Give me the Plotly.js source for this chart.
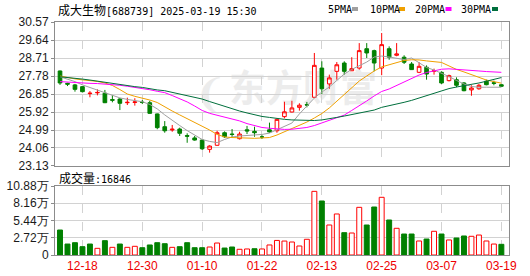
<!DOCTYPE html>
<html><head><meta charset="utf-8">
<script src="https://cdn.plot.ly/plotly-3.0.1.min.js"></script>
<style>body{margin:0;background:#fff}#chart{width:530px;height:276px}</style>
</head><body><div id="chart"></div>
<script>
const dates = ['12-13','12-16','12-17','12-18','12-19','12-20','12-23','12-24','12-25','12-26','12-27','12-30','12-31','01-02','01-03','01-06','01-07','01-08','01-09','01-10','01-13','01-14','01-15','01-16','01-17','01-20','01-21','01-22','01-23','01-24','01-27','02-07','02-10','02-11','02-12','02-13','02-14','02-17','02-18','02-19','02-20','02-21','02-24','02-25','02-26','02-27','02-28','03-03','03-04','03-05','03-06','03-07','03-10','03-11','03-12','03-13','03-14','03-17','03-18','03-19'];
const open  = [28.04,27.40,27.32,27.23,26.87,26.91,26.89,26.56,26.59,26.40,26.41,26.43,26.40,25.82,25.16,24.99,25.04,24.70,24.58,24.47,23.99,24.20,24.85,24.78,24.54,25.00,24.92,24.63,25.00,24.95,25.68,25.92,26.16,26.30,26.68,28.19,27.37,28.02,28.45,28.05,28.19,29.19,29.09,28.19,29.19,28.85,28.75,28.40,27.97,28.23,28.03,27.97,27.54,27.59,27.42,27.06,27.12,27.51,27.43,27.33];
const high  = [28.06,27.43,27.37,27.26,27.00,27.09,27.06,26.80,26.64,26.66,26.63,26.54,26.50,25.84,25.45,25.25,25.11,24.82,24.68,24.50,24.20,24.95,24.92,25.04,24.90,25.20,25.16,24.72,25.37,25.59,26.45,26.50,26.37,26.44,28.97,28.54,27.85,28.50,28.54,28.75,29.48,29.48,29.14,30.00,29.31,29.48,28.85,28.50,28.49,28.33,28.16,28.02,27.85,27.71,27.47,27.30,27.37,27.59,27.54,27.35];
const low   = [27.32,27.26,26.97,26.93,26.68,26.78,26.38,26.42,26.02,26.28,26.25,26.33,25.83,25.03,24.85,24.90,24.68,24.33,24.44,23.96,23.82,24.18,24.58,24.61,24.50,24.78,24.64,24.53,24.85,24.85,25.59,25.90,25.99,26.16,26.66,26.85,27.12,27.59,27.85,28.05,28.11,28.71,28.02,27.82,28.62,28.80,28.40,28.09,27.93,27.59,27.85,27.37,27.50,27.20,26.99,26.76,27.07,27.30,27.30,27.22];
const close = [27.42,27.36,27.09,26.97,26.89,26.93,26.40,26.53,26.37,26.42,26.44,26.41,25.85,25.11,24.95,25.03,24.82,24.67,24.47,24.02,24.16,24.85,24.64,24.76,24.78,24.94,24.85,24.63,24.89,25.54,25.93,26.13,26.27,26.28,28.33,27.12,27.68,28.36,28.02,28.16,29.09,28.97,28.45,29.40,28.75,28.92,28.49,28.11,28.28,27.88,28.05,27.42,27.80,27.30,27.02,27.16,27.30,27.33,27.40,27.25];
const ma5  = [27.74,27.63,27.49,27.32,27.18,27.03,26.89,26.77,26.65,26.57,26.50,26.45,26.31,26.08,25.77,25.48,25.22,24.96,24.73,24.50,24.40,24.34,24.50,24.63,24.68,24.71,24.73,24.76,24.83,24.99,25.17,25.35,25.82,26.23,26.64,26.95,27.21,27.55,27.88,28.12,28.32,28.50,28.76,28.81,28.76,28.68,28.63,28.71,28.45,28.22,28.09,27.94,27.75,27.55,27.37,27.24,27.20,27.20,27.20,27.20];
const ma10 = [27.78,27.70,27.63,27.58,27.55,27.50,27.42,27.29,27.08,26.85,26.73,26.65,26.54,26.41,26.18,25.97,25.77,25.58,25.40,25.22,24.99,24.76,24.63,24.60,24.58,24.56,24.56,24.58,24.60,24.73,24.89,25.07,25.20,25.40,25.61,25.84,26.13,26.49,26.82,27.16,27.52,27.78,28.04,28.25,28.37,28.48,28.58,28.62,28.61,28.56,28.53,28.48,28.30,28.12,27.99,27.85,27.70,27.57,27.49,27.41];
const ma20 = [27.49,27.46,27.43,27.42,27.40,27.39,27.37,27.34,27.30,27.25,27.20,27.14,27.07,26.99,26.92,26.77,26.62,26.44,26.23,26.00,25.85,25.75,25.66,25.57,25.46,25.32,25.20,25.12,25.08,25.04,25.02,25.03,25.07,25.12,25.22,25.35,25.48,25.62,25.76,26.00,26.23,26.49,26.75,26.98,27.11,27.29,27.47,27.65,27.83,27.96,28.06,28.13,28.15,28.13,28.10,28.06,28.04,28.01,27.99,27.97];
const ma30 = [27.74,27.71,27.68,27.62,27.57,27.51,27.44,27.39,27.34,27.28,27.23,27.19,27.11,27.06,27.02,26.93,26.85,26.77,26.67,26.59,26.46,26.33,26.20,26.08,25.97,25.87,25.76,25.69,25.64,25.58,25.54,25.51,25.49,25.48,25.48,25.51,25.56,25.64,25.71,25.79,25.87,25.95,26.02,26.16,26.24,26.33,26.42,26.52,26.64,26.77,26.90,27.03,27.13,27.21,27.27,27.34,27.42,27.51,27.60,27.70];
const volume = [39400,17300,19400,13100,17300,10500,22600,12100,17300,12100,13700,11500,15800,19400,17800,12100,13100,19400,11500,11500,12600,18900,11000,12600,9000,9500,9900,9500,15800,23000,22000,20500,14200,24800,100400,85200,47300,64700,35200,34700,75200,47300,75700,91000,55200,42100,33100,33100,22100,25200,37400,33100,23700,26800,30000,29500,31500,22100,17300,16846];
const volUp = [0,0,0,0,0,1,0,1,0,1,1,0,0,0,0,1,0,0,0,0,1,1,0,0,1,1,0,1,1,1,1,1,1,1,1,0,1,1,0,1,1,0,0,1,0,1,0,0,1,0,1,0,1,0,0,1,1,1,1,0];
const tickDates = ['12-18','12-30','01-10','01-22','02-13','02-25','03-07','03-19'];
const priceTicks = [23.13,24.06,24.99,25.92,26.85,27.78,28.71,29.64,30.57];
const volTicks = [0,27200,54400,81600,108800];
const volTickText = ['0','2.72万','5.44万','8.16万','10.88万'];
const stockName = '成大生物';
const stockCode = '688739';
const stamp = '2025-03-19 15:30';
const maNames = ['5PMA','10PMA','20PMA','30PMA'];

const RED = '#ff0000', GREEN = '#008000';
const maColors = ['#a0a0a0','#f0a000','#ff00ff','#006f3c'];
const W = 530, H = 276, L = 55, R = 21, T = 22, B = 21;
const pw = W - L - R, ph = H - T - B;
const px = v => (v - L) / pw;
const py = v => (H - B - v) / ph;
const cjk = "font-family:'Noto Sans CJK SC';font-size:12px";
const mono = 'DejaVu Sans Mono';

const traces = [];
traces.push({type:'candlestick', x:dates, open:open, high:high, low:low, close:close,
  xaxis:'x', yaxis:'y', hoverinfo:'skip',
  increasing:{line:{color:RED, width:1}, fillcolor:'#ffffff'},
  decreasing:{line:{color:GREEN, width:1}, fillcolor:GREEN}});
[ma5, ma10, ma20, ma30].forEach((m, i) => traces.push({type:'scatter', mode:'lines', x:dates, y:m,
  xaxis:'x', yaxis:'y', hoverinfo:'skip', line:{color:maColors[i], width:1}}));
traces.push({type:'bar', x:dates, y:volume, xaxis:'x2', yaxis:'y2', width:0.66, hoverinfo:'skip',
  marker:{color:volUp.map(u => u ? '#ffffff' : GREEN),
          line:{color:volUp.map(u => u ? RED : GREEN), width:1}}});

const grid = '#d2d2d2', border = '#8c8c8c';
const annotations = [
  {xref:'paper', yref:'paper', x:px(56), y:py(9.5), xanchor:'left', yanchor:'middle', showarrow:false,
   text:`<span style="${cjk}">${stockName}</span>[${stockCode}] ${stamp}`,
   font:{family:mono, size:10, color:'#000'}},
  {xref:'paper', yref:'paper', x:px(57), y:py(177.5), xanchor:'left', yanchor:'middle', showarrow:false,
   text:`<span style="${cjk}">成交量</span>:${volume[volume.length-1]}`,
   font:{family:mono, size:10, color:'#000'}}
];
const legX = [326, 368, 413, 459], sqX = [352, 399, 445.5, 492];
const shapes = [];
maNames.forEach((n, i) => {
  annotations.push({xref:'paper', yref:'paper', x:px(legX[i]), y:py(9.5), xanchor:'left', yanchor:'middle',
    showarrow:false, text:n, font:{family:mono, size:10, color:'#000'}});
  shapes.push({type:'rect', xref:'paper', yref:'paper', x0:px(sqX[i]), x1:px(sqX[i]+6), y0:py(11), y1:py(7),
    fillcolor:maColors[i], line:{width:0}});
});
shapes.push({type:'rect', xref:'paper', yref:'paper', x0:px(230), x1:px(376), y0:py(112), y1:py(72),
  layer:'below', line:{width:0}, fillcolor:'rgba(0,0,0,0)',
  label:{text:'东方财富', textposition:'middle center',
         font:{family:'Noto Sans CJK SC', size:37, color:'#ececec', weight:700}}});
shapes.push({type:'rect', xref:'paper', yref:'paper', x0:px(193), x1:px(228), y0:py(110), y1:py(72),
  layer:'below', line:{width:0}, fillcolor:'rgba(0,0,0,0)',
  label:{text:'❨', textposition:'middle center',
         font:{family:'DejaVu Sans', size:40, color:'#ececec', weight:700}}});

const xbase = {type:'category', range:[-0.67, 60.02], tickvals:tickDates, showgrid:true, gridcolor:grid,
  griddash:'dash', gridwidth:1, showline:true, mirror:true, linecolor:border, linewidth:1, ticks:'',
  zeroline:false, fixedrange:true};
const layout = {
  width:W, height:H, margin:{l:L, r:R, t:T, b:B}, paper_bgcolor:'#fff', plot_bgcolor:'#fff',
  showlegend:false, hovermode:false,
  xaxis:Object.assign({}, xbase, {anchor:'y', showticklabels:false, rangeslider:{visible:false}}),
  xaxis2:Object.assign({}, xbase, {anchor:'y2', matches:'x', showticklabels:true,
    tickfont:{family:'Liberation Sans', size:12, color:'#ee0000'}}),
  yaxis:{domain:[0.382, 1], range:[23.13, 30.57], tickvals:priceTicks, tickformat:'.2f',
    showgrid:true, gridcolor:grid, showline:true, mirror:true, linecolor:border, linewidth:1,
    ticks:'outside', ticklen:3, tickcolor:border, zeroline:false, fixedrange:true,
    tickfont:{family:'Liberation Sans', size:12, color:'#1a1a1a'}},
  yaxis2:{domain:[0, 0.296], range:[0, 108800], tickvals:volTicks, ticktext:volTickText,
    showgrid:true, gridcolor:grid, showline:true, mirror:true, linecolor:border, linewidth:1,
    ticks:'outside', ticklen:3, tickcolor:border, zeroline:false, fixedrange:true,
    tickfont:{family:'Liberation Sans', size:12, color:'#1a1a1a'}},
  annotations:annotations, shapes:shapes
};
Plotly.newPlot('chart', traces, layout, {staticPlot:true, displayModeBar:false});
</script></body></html>
